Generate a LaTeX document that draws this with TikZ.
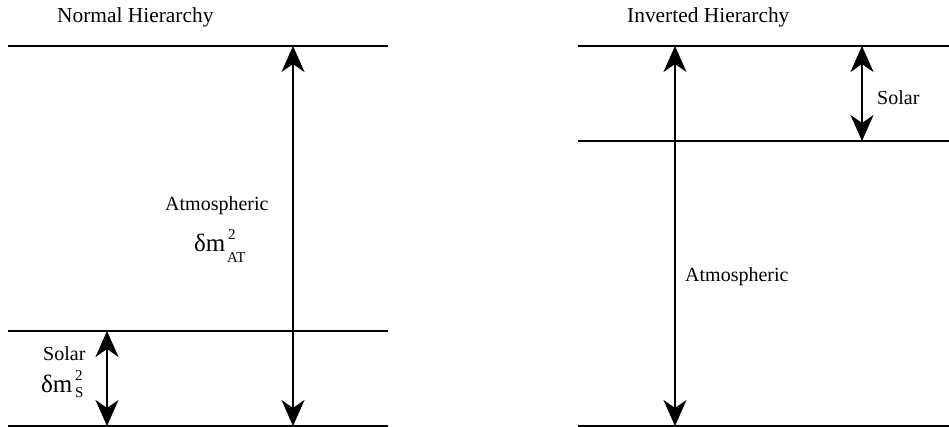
\documentclass[tikz,border=0pt]{standalone}
\usepackage{fontspec}
\setmainfont{Liberation Serif}
\usetikzlibrary{arrows.meta}
\begin{document}
\begin{tikzpicture}[x=1pt,y=-1pt,
  level/.style={line width=2.5pt},
  tip/.tip={Stealth[length=26pt,width=23pt,inset=8pt]},
  gap/.style={line width=2.5pt,tip-tip},
  lbl/.style={inner sep=0pt,anchor=base west,font=\fontsize{20}{24}\selectfont},
  ttl/.style={font=\fontsize{21.4}{24}\selectfont},
  big/.style={font=\fontsize{25}{26}\selectfont},
  small/.style={font=\fontsize{15}{16}\selectfont}]
\useasboundingbox (0,0) rectangle (949,427);
% levels, normal hierarchy
\coordinate (nt1) at (8,46);   \coordinate (nt2) at (388,46);
\coordinate (nm1) at (8,331);  \coordinate (nm2) at (388,331);
\coordinate (nb1) at (8,426);  \coordinate (nb2) at (388,426);
\draw[level] (nt1) -- (nt2);
\draw[level] (nm1) -- (nm2);
\draw[level] (nb1) -- (nb2);
% levels, inverted hierarchy
\coordinate (it1) at (578,46);  \coordinate (it2) at (949,46);
\coordinate (im1) at (578,141); \coordinate (im2) at (949,141);
\coordinate (ib1) at (578,426); \coordinate (ib2) at (949,426);
\draw[level] (it1) -- (it2);
\draw[level] (im1) -- (im2);
\draw[level] (ib1) -- (ib2);
% arrows
\coordinate (naT) at (293,46);  \coordinate (naB) at (293,426);
\coordinate (nsT) at (107,331); \coordinate (nsB) at (107,426);
\coordinate (iaT) at (675,46);  \coordinate (iaB) at (675,426);
\coordinate (isT) at (862,46);  \coordinate (isB) at (862,141);
\draw[gap] (naT) -- (naB);
\draw[gap] (nsT) -- (nsB);
\draw[gap] (iaT) -- (iaB);
\draw[gap] (isT) -- (isB);
% labels
\node[lbl,ttl] (tn) at (57,23) {Normal Hierarchy};
\node[lbl,ttl] (ti) at (627,23) {Inverted Hierarchy};
\node[lbl] (natm) at (165,211) {Atmospheric};
\node[lbl,big] (ndm) at (194,252) {δm};
\node[lbl,small] (nsup) at (228,240) {2};
\node[lbl,small] (nsub) at (227,263) {AT};
\node[lbl] (nsol) at (43,360) {Solar};
\node[lbl,big] (sdm) at (41,392) {δm};
\node[lbl,small] (ssup) at (75,380) {2};
\node[lbl,small] (ssub) at (75,397) {S};
\node[lbl] (isol) at (877,105) {Solar};
\node[lbl] (iatm) at (685,281) {Atmospheric};
\end{tikzpicture}
\end{document}
